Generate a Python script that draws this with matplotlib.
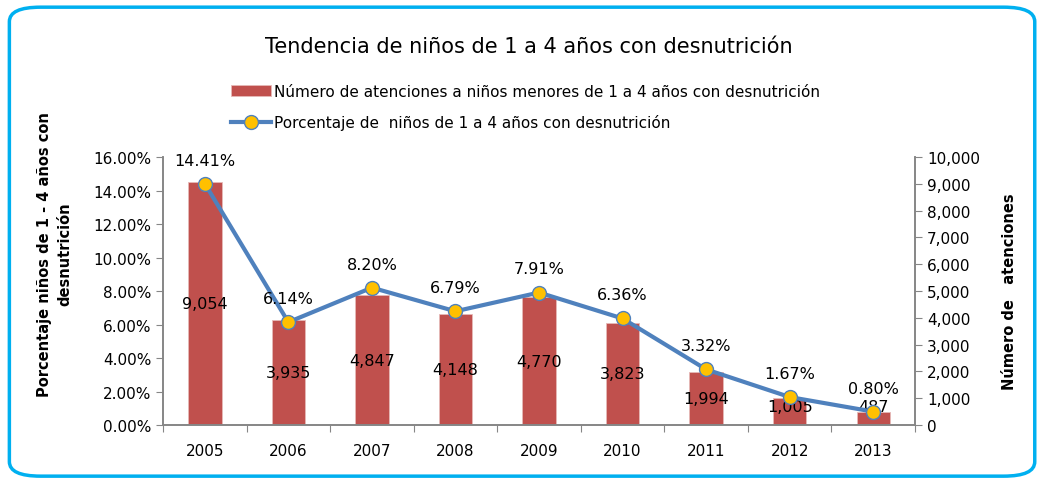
import matplotlib.pyplot as plt
from matplotlib.patches import FancyBboxPatch
from matplotlib.ticker import FuncFormatter

plt.rcParams['font.family'] = ['DejaVu Sans']

# datos
anios = ["2005", "2006", "2007", "2008", "2009", "2010", "2011", "2012", "2013"]
atenciones = [9054, 3935, 4847, 4148, 4770, 3823, 1994, 1005, 487]
porcentaje = [14.41, 6.14, 8.20, 6.79, 7.91, 6.36, 3.32, 1.67, 0.80]

rojo = "#C0504D"
azul = "#4F81BD"
gris = "#868686"

fig = plt.figure(figsize=(10.41, 4.81), dpi=100)

# borde redondeado
borde = FancyBboxPatch((0.009, 0.008), 0.985, 0.975, boxstyle="round,pad=0,rounding_size=0.03",
                       transform=fig.transFigure, facecolor="white", edgecolor="#00B0F0",
                       linewidth=2.5, zorder=-10)
fig.patches.append(borde)

ax = fig.add_axes([0.1566, 0.1143, 0.7224, 0.5572])
ax2 = ax.twinx()
ax.set_zorder(ax2.get_zorder() + 1)
ax.patch.set_visible(False)

x = list(range(len(anios)))

# barras (eje derecho)
barras = ax2.bar(x, atenciones, width=0.4, color=rojo, edgecolor="#E6B9B8", linewidth=0.6,
                 label="Número de atenciones a niños menores de 1 a 4 años con desnutrición")
for xi, v in zip(x, atenciones):
    ax2.text(xi, max(v / 2, 700), f"{v:,}", ha="center", va="center", fontsize=11.5)

# linea (eje izquierdo)
linea, = ax.plot(x, porcentaje, color=azul, linewidth=3, marker="o", markersize=10,
                 markerfacecolor="#FFC000", markeredgecolor=azul, markeredgewidth=1,
                 label="Porcentaje de  niños de 1 a 4 años con desnutrición")
for xi, p in zip(x, porcentaje):
    ax.annotate(f"{p:.2f}%", (xi, p), xytext=(0, 17), textcoords="offset points",
                ha="center", va="center", fontsize=11.5)

ax.set_xlim(-0.5, len(anios) - 0.5)
ax.set_ylim(0, 16)
ax2.set_ylim(0, 10000)
ax.set_yticks(range(0, 17, 2))
ax.yaxis.set_major_formatter(FuncFormatter(lambda v, _: f"{v:.2f}%"))
ax2.set_yticks(range(0, 10001, 1000))
ax2.yaxis.set_major_formatter(FuncFormatter(lambda v, _: f"{int(v):,}"))

ax.set_xticks([i + 0.5 for i in range(-1, len(anios))])
ax.set_xticklabels([])
ax.set_xticks(x, minor=True)
ax.set_xticklabels(anios, minor=True)
ax.tick_params(axis="x", which="minor", length=0, labelsize=11, pad=13)
ax.tick_params(axis="x", which="major", length=5, color=gris, direction="out")
ax.tick_params(axis="y", length=5, color=gris, labelsize=11)
ax2.tick_params(axis="y", length=5, color=gris, labelsize=11)

for a in (ax, ax2):
    a.spines["top"].set_visible(False)
    for s in ("left", "right", "bottom"):
        a.spines[s].set_color(gris)
        a.spines[s].set_linewidth(1.2)

ax.set_ylabel("Porcentaje niños de 1 - 4 años con\ndesnutrición", fontsize=10.5, fontweight="bold",
              linespacing=1.45)
ax.yaxis.set_label_coords(-0.12, 0.64)
ax2.set_ylabel("Número de   atenciones", fontsize=10.5, fontweight="bold", labelpad=16)

fig.text(0.508, 0.903, "Tendencia de niños de 1 a 4 años con desnutrición", ha="center",
         va="center", fontsize=15)
fig.legend(handles=[barras, linea], loc="center", bbox_to_anchor=(0.505, 0.775), ncol=1,
           frameon=False, fontsize=11, handlelength=2.6, handletextpad=0.2, labelspacing=1.0)

fig.savefig("out.png", dpi=100)
